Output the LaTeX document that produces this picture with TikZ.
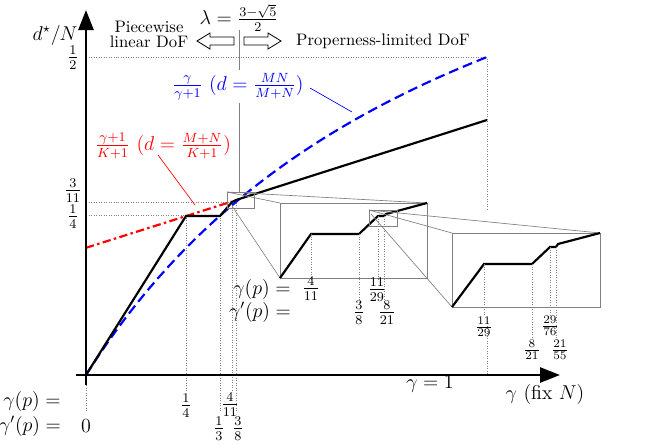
\documentclass[tikz,border=0pt]{standalone}
\usepackage{amsmath}
\usetikzlibrary{arrows.meta}
\tikzset{
  grid dot/.style={gray, densely dotted, line width=0.5pt},
  zoom line/.style={gray, line width=0.4pt},
  dof/.style={black, line width=1.3pt},
  lab/.style={inner sep=1pt},
  hollow/.style={draw, fill=white, line width=0.5pt}
}
\begin{document}
\begin{tikzpicture}[x=0.6pt,y=-0.6pt]
  \useasboundingbox (0,0) rectangle (664,444);
  % coordinates
  \coordinate (O) at (86,375);
  \coordinate (xend) at (560,375);
  \coordinate (yend) at (86,10);
  % dotted guides
  \draw[grid dot] (86,57) -- (487,57) -- (487,210);
  \draw[grid dot] (487,318) -- (487,375);
  \draw[grid dot] (86,202) -- (232,202);
  \draw[grid dot] (86,215) -- (186,215);
  \draw[grid dot] (186,215) -- (186,392);
  \draw[grid dot] (220,215) -- (220,412);
  \draw[grid dot] (232,202) -- (232,392);
  \draw[grid dot] (236,200) -- (236,412);
  \draw[grid dot] (86,385) -- (86,412);
  % lambda line
  \draw[gray] (239,30) -- (239,70);
  \draw[gray] (239,103) -- (239,192);
  % curves
  \draw[red, line width=1.3pt, dash pattern=on 5pt off 2pt on 1.5pt off 2pt] plot[domain=0:0.3636, samples=2] ({86+401*\x},{375-636*(\x+1)/5});
  \draw[blue, line width=1.3pt, dash pattern=on 6pt off 3pt] plot[domain=0:1, samples=40] ({86+401*\x},{375-636*\x/(\x+1)});
  \draw[dof] (O) -- (186,216) -- (220,216) -- (232,202) -- (236,200) -- (487,120);
  % zoom boxes
  \draw[zoom line] (227,192) rectangle (254,208);
  \draw[zoom line] (280,203) rectangle (427,278);
  \draw[zoom line] (227,192) -- (280,203);
  \draw[zoom line] (227,192) -- (427,203);
  \draw[zoom line] (232,206) -- (280,278);
  \draw[dof] (280,278) -- (311,234) -- (359,234) -- (378,216) -- (384,216) -- (386,214) -- (427,203);
  \draw[zoom line] (369,210) rectangle (397,226);
  \draw[zoom line] (452,233) rectangle (600,307);
  \draw[zoom line] (369,210) -- (452,233);
  \draw[zoom line] (369,210) -- (600,233);
  \draw[zoom line] (371,214) -- (452,307);
  \draw[dof] (452,307) -- (484,264) -- (532,264) -- (550,247) -- (556,247) -- (558,244) -- (600,233);
  % zoom ticks
  \draw[grid dot] (311,234) -- (311,281);
  \draw[grid dot] (359,234) -- (359,302);
  \draw[grid dot] (378,216) -- (378,281);
  \draw[grid dot] (384,216) -- (384,302);
  \draw[grid dot] (484,264) -- (484,316);
  \draw[grid dot] (532,264) -- (532,338);
  \draw[grid dot] (550,247) -- (550,316);
  \draw[grid dot] (556,247) -- (556,338);
  % axes
  \draw[line width=1.6pt, -{Triangle[length=12pt,width=9pt]}] (76,375) -- (xend);
  \draw[line width=1.6pt, -{Triangle[length=12pt,width=9pt]}] (86,385) -- (yend);
  % axis labels
  \node[lab] (dlab) at (55,35) {\large$d^\star/N$};
  \node[lab] (xlab) at (545,395) {\large$\gamma$ (fix $N$)};
  \node[lab] (g1) at (430,384) {\large$\gamma=1$};
  \node[lab] (yhalf) at (73,58) {\large$\frac12$};
  \node[lab] (y311) at (73,191) {\large$\frac{3}{11}$};
  \node[lab] (y14) at (73,217) {\large$\frac14$};
  % x labels
  \node[lab] (gp) at (32,401) {\large$\gamma(p) =$};
  \node[lab] (gpp) at (30,426) {\large$\gamma'(p) =$};
  \node[lab] (x0) at (86,426) {\large$0$};
  \node[lab] (x14) at (186,406) {\large$\frac14$};
  \node[lab] (x411) at (230,405) {\large$\frac{4}{11}$};
  \node[lab] (x13) at (219,429) {\large$\frac13$};
  \node[lab] (x38) at (238,429) {\large$\frac38$};
  \node[lab] (z1gp) at (262,289) {\large$\gamma(p) =$};
  \node[lab] (z1gpp) at (260,312) {\large$\gamma'(p) =$};
  \node[lab] (z1a) at (311,289) {\large$\frac{4}{11}$};
  \node[lab] (z1b) at (359,313) {\large$\frac38$};
  \node[lab] (z1c) at (377,290) {\large$\frac{11}{29}$};
  \node[lab] (z1d) at (387,313) {\large$\frac{8}{21}$};
  \node[lab] (z2a) at (484,327) {$\frac{11}{29}$};
  \node[lab] (z2b) at (532,350) {$\frac{8}{21}$};
  \node[lab] (z2c) at (550,326) {$\frac{29}{76}$};
  \node[lab] (z2d) at (560,350) {$\frac{21}{55}$};
  % top labels
  \node[lab] (lam) at (239,18) {\large$\lambda=\frac{3-\sqrt5}{2}$};
  \node[lab, align=center] (pw) at (149,34) {Piecewise\\[-3pt]linear DoF};
  \node[lab] (prop) at (383,41) {Properness-limited DoF};
  \draw[hollow] (234,37) -- (210,37) -- (210,33) -- (197,41) -- (210,49) -- (210,45) -- (234,45) -- cycle;
  \draw[hollow] (244,37) -- (268,37) -- (268,33) -- (281,41) -- (268,49) -- (268,45) -- (244,45) -- cycle;
  % curve labels
  \node[lab, blue] (blab) at (238,87) {\large$\frac{\gamma}{\gamma+1}\ (d=\frac{MN}{M+N})$};
  \draw[blue] (310,88) -- (352,112);
  \node[lab, red] (rlab) at (163,146) {\large$\frac{\gamma+1}{K+1}\ (d=\frac{M+N}{K+1})$};
  \draw[red] (158,155) -- (195,205);
\end{tikzpicture}
\end{document}
